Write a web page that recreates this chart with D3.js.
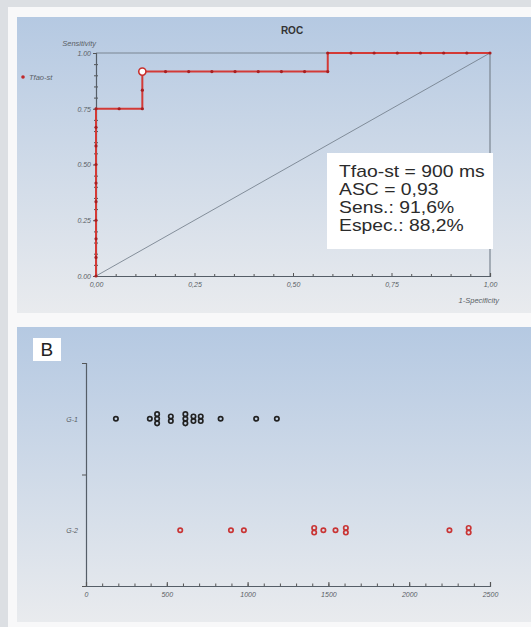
<!DOCTYPE html>
<html>
<head>
<meta charset="utf-8">
<script src="https://cdn.jsdelivr.net/npm/d3@7"></script>
<style>
  body { margin: 0; background: #dcdfe3; }
  svg { display: block; font-family: "Liberation Sans", Arial, sans-serif; }
  .tick text { font-style: italic; fill: #5a5f66; font-size: 7px; }
</style>
</head>
<body>
<svg id="chart" width="531" height="627"></svg>
<script>
// ROC curve (1-specificity, sensitivity): 12 positives, 17 negatives
const rocFpr = [0, 0, 0, 0, 0, 0, 0, 0, 0, 0,
    0.0588, 0.1176, 0.1176, 0.1176,
    0.1765, 0.2353, 0.2941, 0.3529, 0.4118, 0.4706, 0.5294, 0.5882,
    0.5882, 0.6471, 0.7059, 0.7647, 0.8235, 0.8824, 0.9412, 1.0];
const rocTpr = [0, 0.0833, 0.1667, 0.25, 0.3333, 0.4167, 0.5, 0.5833, 0.6667, 0.75,
    0.75, 0.75, 0.8333, 0.9167,
    0.9167, 0.9167, 0.9167, 0.9167, 0.9167, 0.9167, 0.9167, 0.9167,
    1.0, 1.0, 1.0, 1.0, 1.0, 1.0, 1.0, 1.0];
const cutoff = { fpr: 0.1176, tpr: 0.9167 };
const rocMajorTicks = [0, 0.25, 0.5, 0.75, 1];
const rocMinorTicks = [0.05, 0.1, 0.15, 0.2, 0.3, 0.35, 0.4, 0.45, 0.55, 0.6, 0.65, 0.7, 0.8, 0.85, 0.9, 0.95];
const statLines = ["Tfao-st = 900 ms", "ASC = 0,93", "Sens.: 91,6%", "Espec.: 88,2%"];

// dot plot (ms)
const groups = ["G-1", "G-2"];
const g1Values = [185, 395, 440, 440, 440, 525, 525, 615, 615, 615, 665, 665, 710, 710, 833, 1053, 1181];
const g2Values = [583, 897, 977, 1412, 1412, 1469, 1544, 1608, 1608, 2249, 2368, 2368];
const dotMajorTicks = [0, 500, 1000, 1500, 2000, 2500];
const dotMinorTicks = d3.range(0, 2501, 100);

const svg = d3.select("#chart");
const defs = svg.append("defs");
const grad = defs.append("linearGradient").attr("id", "panelGrad")
    .attr("x1", 0).attr("y1", 0).attr("x2", 0).attr("y2", 1);
grad.append("stop").attr("offset", "0%").attr("stop-color", "#b5c9e2");
grad.append("stop").attr("offset", "100%").attr("stop-color", "#e9ebee");

svg.append("rect").attr("x", 8).attr("y", 7).attr("width", 523).attr("height", 620).attr("fill", "#f8f8f9");
svg.append("rect").attr("x", 17).attr("y", 17).attr("width", 514).attr("height", 296).attr("fill", "url(#panelGrad)");
svg.append("rect").attr("x", 17).attr("y", 327).attr("width", 514).attr("height", 295).attr("fill", "url(#panelGrad)");

// ---------- panel A: ROC ----------
const x = d3.scaleLinear().domain([0, 1]).range([96, 490]);
const y = d3.scaleLinear().domain([0, 1]).range([276, 53]);
const A = svg.append("g");

A.append("text").attr("x", 292).attr("y", 34).attr("text-anchor", "middle")
    .attr("font-size", 10).attr("font-weight", "bold").attr("fill", "#333").text("ROC");

// frame top / right
A.append("path").attr("d", `M${x(0)},${y(1)}H${x(1)}V${y(0)}`)
    .attr("fill", "none").attr("stroke", "#7b8591").attr("stroke-width", 1.2);

// diagonal
A.append("line").attr("x1", x(0)).attr("y1", y(0)).attr("x2", x(1)).attr("y2", y(1))
    .attr("stroke", "#6d7885").attr("stroke-width", 0.8);

const fmtDot = d3.format(".2f");
const fmtComma = d => d3.format(".2f")(d).replace(".", ",");

A.append("g").attr("transform", `translate(${x(0)},0)`)
    .call(d3.axisLeft(y).tickValues(rocMinorTicks).tickSize(2).tickFormat(""))
    .call(g => g.select(".domain").remove())
    .call(g => g.selectAll("line").attr("stroke", "#555").attr("x2", 2).attr("x1", -2));
A.append("g").attr("transform", `translate(${x(0)},0)`)
    .call(d3.axisLeft(y).tickValues(rocMajorTicks).tickSize(3).tickPadding(2).tickFormat(fmtDot))
    .call(g => g.select(".domain").attr("stroke", "#555e68").attr("stroke-width", 1.2))
    .call(g => g.selectAll("line").attr("stroke", "#555"));

A.append("g").attr("transform", `translate(0,${y(0)})`)
    .call(d3.axisBottom(x).tickValues(rocMinorTicks).tickSize(-2).tickFormat(""))
    .call(g => g.select(".domain").remove())
    .call(g => g.selectAll("line").attr("stroke", "#555"));
A.append("g").attr("transform", `translate(0,${y(0)})`)
    .call(d3.axisBottom(x).tickValues(rocMajorTicks).tickSize(-3).tickPadding(6).tickFormat(fmtComma))
    .call(g => g.select(".domain").attr("stroke", "#555e68").attr("stroke-width", 1.2))
    .call(g => g.selectAll("line").attr("stroke", "#555"));

A.append("text").attr("x", 96).attr("y", 46).attr("text-anchor", "end")
    .attr("font-size", 7.5).attr("font-style", "italic").attr("fill", "#5a5f66").text("Sensitivity");
A.append("text").attr("x", 499).attr("y", 303).attr("text-anchor", "end")
    .attr("font-size", 7.5).attr("font-style", "italic").attr("fill", "#5a5f66").text("1-Specificity");

// legend
A.append("circle").attr("cx", 23).attr("cy", 77).attr("r", 1.8).attr("fill", "#c0282a");
A.append("text").attr("x", 29).attr("y", 79.5).attr("font-size", 7.5).attr("font-style", "italic")
    .attr("fill", "#5a5f66").text("Tfao-st");

const rocPts = rocFpr.map((f, i) => [f, rocTpr[i]]);
A.append("path").datum(rocPts)
    .attr("d", d3.line().x(d => x(d[0])).y(d => y(d[1])))
    .attr("fill", "none").attr("stroke", "#d33a36").attr("stroke-width", 2);
A.selectAll("circle.pt").data(rocPts).enter().append("circle").attr("class", "pt")
    .attr("cx", d => x(d[0])).attr("cy", d => y(d[1])).attr("r", 1.6).attr("fill", "#a81e20");
A.append("circle").attr("cx", x(cutoff.fpr)).attr("cy", y(cutoff.tpr)).attr("r", 3.6)
    .attr("fill", "#fff").attr("stroke", "#c8302c").attr("stroke-width", 1.6);

// stats box
A.append("rect").attr("x", 327).attr("y", 153).attr("width", 166).attr("height", 96).attr("fill", "#fff");
const tb = A.append("g").attr("transform", "translate(339,0) scale(1.21,1)");
tb.selectAll("text").data(statLines).enter().append("text")
    .attr("x", 0).attr("y", (d, i) => 177 + i * 18)
    .attr("font-size", 16).attr("fill", "#2b2b2b").text(d => d);

// ---------- panel B: dot plot ----------
const B = svg.append("g");
B.append("rect").attr("x", 33).attr("y", 338).attr("width", 28).attr("height", 23).attr("fill", "#fff");
B.append("text").attr("x", 40.5).attr("y", 355.5).attr("font-size", 19).attr("fill", "#222").text("B");

const bx = d3.scaleLinear().domain([0, 2500]).range([86, 490]);
const by = d3.scaleLinear().domain([0, 4]).range([363, 586]);

B.append("g").attr("transform", `translate(${bx(0)},0)`)
    .call(d3.axisLeft(by).tickValues([0, 2, 4]).tickSize(4).tickFormat(""))
    .call(g => g.select(".domain").attr("stroke", "#555e68").attr("stroke-width", 1.2))
    .call(g => g.selectAll("line").attr("stroke", "#555"));
B.append("g").attr("transform", `translate(${bx(0)},0)`)
    .call(d3.axisLeft(by).tickValues([1, 3]).tickSize(0).tickPadding(8).tickFormat((d, i) => groups[i]))
    .call(g => g.select(".domain").remove());

B.append("g").attr("transform", `translate(0,${by(4)})`)
    .call(d3.axisBottom(bx).tickValues(dotMinorTicks).tickSize(-2.5).tickFormat(""))
    .call(g => g.select(".domain").remove())
    .call(g => g.selectAll("line").attr("stroke", "#555"));
B.append("g").attr("transform", `translate(0,${by(4)})`)
    .call(d3.axisBottom(bx).tickValues(dotMajorTicks).tickSize(-4).tickPadding(6).tickFormat(d3.format("d")))
    .call(g => g.select(".domain").attr("stroke", "#555e68").attr("stroke-width", 1.2))
    .call(g => g.selectAll("line").attr("stroke", "#555"));

function stackDots(values, row) {
    const out = [];
    d3.group(values, v => v).forEach((arr, v) => {
        arr.forEach((_, i) => out.push({ v: v, row: row, off: (i - (arr.length - 1) / 2) * 4.6 }));
    });
    return out;
}
const dotData = [
    { vals: stackDots(g1Values, 1), color: "#222" },
    { vals: stackDots(g2Values, 3), color: "#c93535" }
];
dotData.forEach(s => {
    B.append("g").selectAll("circle").data(s.vals).enter().append("circle")
        .attr("cx", d => bx(d.v)).attr("cy", d => by(d.row) + d.off)
        .attr("r", 2.2).attr("fill", "none").attr("stroke", s.color).attr("stroke-width", 1.7);
});
</script>
</body>
</html>
